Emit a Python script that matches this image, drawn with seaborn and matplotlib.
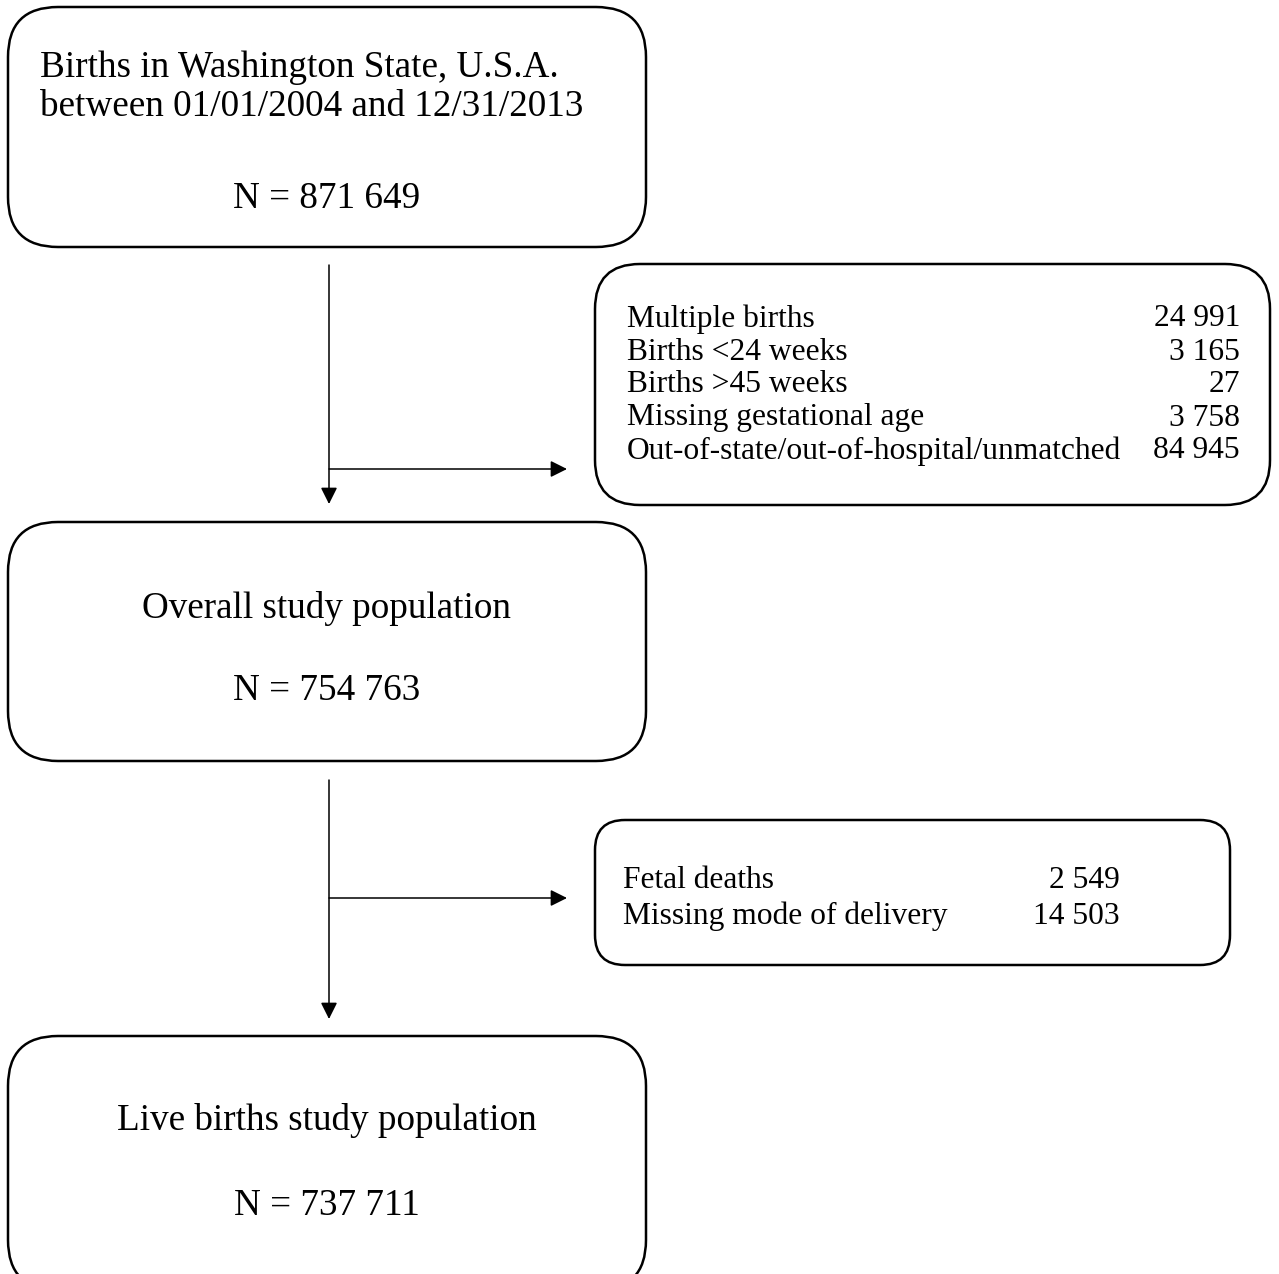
import matplotlib
matplotlib.use("Agg")
import matplotlib.pyplot as plt
from matplotlib.patches import FancyBboxPatch
import seaborn as sns

sns.set_theme(style="white")
plt.rcParams['font.family'] = ['Liberation Serif', 'DejaVu Serif']
plt.rcParams['text.color'] = 'black'

# ---- data ----
main_title_lines = [["Births in Washington State, U.S.A.", "between 01/01/2004 and 12/31/2013"],
                    ["Overall study population"],
                    ["Live births study population"]]
main_counts = ["871 649", "754 763", "737 711"]
excl1_labels = ["Multiple births", "Births <24 weeks", "Births >45 weeks",
                "Missing gestational age", "Out-of-state/out-of-hospital/unmatched"]
excl1_counts = ["24 991", "3 165", "27", "3 758", "84 945"]
excl2_labels = ["Fetal deaths", "Missing mode of delivery"]
excl2_counts = ["2 549", "14 503"]

W, H = 1279, 1274
fig = plt.figure(figsize=(W / 100, H / 100), dpi=100)
ax = fig.add_axes([0, 0, 1, 1])
ax.set_xlim(0, W)
ax.set_ylim(H, 0)
ax.axis("off")

def rbox(x0, y0, x1, y1, r, lw=1.8):
    p = FancyBboxPatch((x0, y0), x1 - x0, y1 - y0,
                       boxstyle=f"round,pad=0,rounding_size={r}",
                       fc="white", ec="black", lw=lw, clip_on=False)
    ax.add_patch(p)

def arrow(x0, y0, x1, y1):
    ax.annotate("", xy=(x1, y1), xytext=(x0, y0),
                arrowprops=dict(arrowstyle="-|>,head_length=1.0,head_width=0.5",
                                mutation_scale=10,
                                color="black", lw=1.1, shrinkA=0, shrinkB=0))

# main boxes
boxes_y = [(7, 247), (522, 761), (1036, 1290)]
for (y0, y1) in boxes_y:
    rbox(8, y0, 646, y1, 50)

fs_main = 26.7
# box 1 (left-aligned title)
ax.text(40, 68, main_title_lines[0][0], ha="left", va="center", fontsize=fs_main)
ax.text(40, 107, main_title_lines[0][1], ha="left", va="center", fontsize=fs_main)
ax.text(327, 199, "N = " + main_counts[0], ha="center", va="center", fontsize=fs_main)
# box 2
ax.text(327, 608, main_title_lines[1][0], ha="center", va="center", fontsize=fs_main)
ax.text(327, 691, "N = " + main_counts[1], ha="center", va="center", fontsize=fs_main)
# box 3
ax.text(327, 1121, main_title_lines[2][0], ha="center", va="center", fontsize=fs_main)
ax.text(327, 1206, "N = " + main_counts[2], ha="center", va="center", fontsize=fs_main)

# arrows
arrow(329, 265, 329, 504)
arrow(329, 469, 567, 469)
arrow(329, 780, 329, 1019)
arrow(329, 898, 567, 898)

# exclusion box 1
rbox(595, 264, 1270, 505, 45)
fs_small = 22.7
for i, (lab, cnt) in enumerate(zip(excl1_labels, excl1_counts)):
    y = 319 + i * 33
    ax.text(627, y, lab, ha="left", va="center", fontsize=fs_small)
    ax.text(1240, y, cnt, ha="right", va="center", fontsize=fs_small)

# exclusion box 2
rbox(595, 820, 1230, 965, 30)
for i, (lab, cnt) in enumerate(zip(excl2_labels, excl2_counts)):
    y = 880 + i * 36
    ax.text(623, y, lab, ha="left", va="center", fontsize=fs_small)
    ax.text(1120, y, cnt, ha="right", va="center", fontsize=fs_small)

fig.savefig("out.png", dpi=100, facecolor="white")
